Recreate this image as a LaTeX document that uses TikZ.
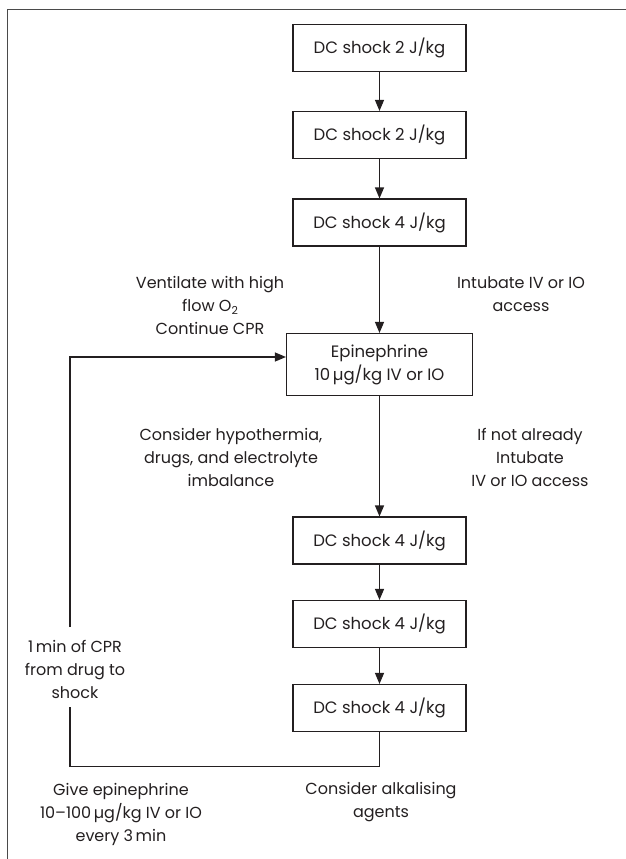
\documentclass[tikz,border=0pt]{standalone}
\usepackage{fontspec}
\setmainfont{Poppins}
\usetikzlibrary{arrows.meta}
\definecolor{ink}{HTML}{231F20}
\definecolor{framec}{HTML}{4A4A4A}
\begin{document}
\begin{tikzpicture}[x=1pt,y=-1pt,
  lbl/.style={font=\fontsize{16}{23}\selectfont, align=center, inner sep=0pt, text=ink},
  shockbox/.style={draw=ink, line width=1.1pt, minimum width=173pt, minimum height=47pt, inner sep=0pt,
    font=\fontsize{16.5}{23}\selectfont, text=ink, align=center},
  epibox/.style={shockbox, minimum width=186pt, minimum height=62pt},
  arr/.style={draw=ink, line width=1.1pt, -{Triangle[width=9pt,length=11pt]}},
  ln/.style={draw=ink, line width=1.1pt}
]
\useasboundingbox (0,0) rectangle (626,859);
% frame (top and left edges only)
\draw[framec, line width=1.8pt] (7.5,859) -- (7.5,9.5) -- (626,9.5);

\node[shockbox] (b1) at (379.5,48) {DC shock 2 J/kg};
\node[shockbox] (b2) at (379.5,135) {DC shock 2 J/kg};
\node[shockbox] (b3) at (379.5,222.5) {DC shock 4 J/kg};
\node[epibox] (epi) at (379.5,364.5) {Epinephrine\\10\,µg/kg IV or IO};
\node[shockbox] (b4) at (379.5,540.5) {DC shock 4 J/kg};
\node[shockbox] (b5) at (379.5,624) {DC shock 4 J/kg};
\node[shockbox] (b6) at (379.5,708) {DC shock 4 J/kg};

\draw[arr] (b1) -- (b2);
\draw[arr] (b2) -- (b3);
\draw[arr] (b3) -- (epi);
\draw[arr] (epi) -- (b4);
\draw[arr] (b4) -- (b5);
\draw[arr] (b5) -- (b6);

\node[lbl] (vent) at (210,305) {Ventilate with high\\flow O\raisebox{-0.45ex}{\fontsize{11}{11}\selectfont 2}\\Continue CPR};
\node[lbl] (intub) at (521,294) {Intubate IV or IO\\access};
\node[lbl] (hypo) at (231,457) {Consider hypothermia,\\drugs, and electrolyte\\imbalance};
\node[lbl] (ifnot) at (530,457) {If not already\\Intubate\\IV or IO access};
\node[lbl] (cpr) at (75,669.5) {1\,min of CPR\\from drug to\\shock};
\node[lbl] (give) at (121,814) {Give epinephrine\\10–100\,µg/kg IV or IO\\every 3\,min};
\node[lbl] (alk) at (381,802.5) {Consider alkalising\\agents};

% loop back
\coordinate (gapbot) at (70,707);
\coordinate (gaptop) at (70,627);
\draw[ln] (b6.south) -- ++(0,34) -| (gapbot);
\draw[arr] (gaptop) |- ([yshift=7.5pt]epi.west);
\end{tikzpicture}
\end{document}
